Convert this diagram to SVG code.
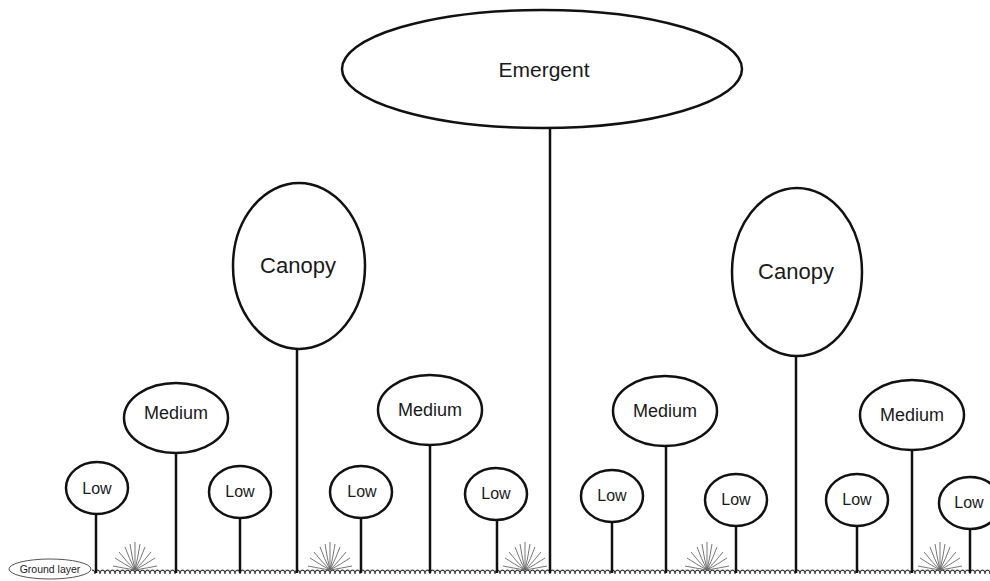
<svg xmlns="http://www.w3.org/2000/svg" width="990" height="581" viewBox="0 0 990 581">
<style>
.n{fill:#fff;stroke:#111;stroke-width:2.5}
.t{font-family:"Liberation Sans",Arial,sans-serif;fill:#1a1a1a;text-anchor:middle;dominant-baseline:central}
.stem{stroke:#111;stroke-width:2.5;fill:none}
.tuft path{stroke:#666;stroke-width:0.9;fill:none}
</style>
<defs>
<pattern id="wave" patternUnits="userSpaceOnUse" x="0" y="566" width="5" height="10">
<path d="M0,8 C0.2,2.8 4.8,2.8 5,8" fill="none" stroke="#333" stroke-width="1.1"/>
</pattern>
<g id="tuft" class="tuft">
<path d="M0,0 Q-12,-2 -22,-4"/>
<path d="M0,0 Q-11,-6 -20,-12"/>
<path d="M0,0 Q-9,-9 -16,-18"/>
<path d="M0,0 Q-6,-12 -10,-23"/>
<path d="M0,0 Q-3,-13 -5,-26"/>
<path d="M0,0 L0,-28"/>
<path d="M0,0 Q3,-13 5,-26"/>
<path d="M0,0 Q6,-12 10,-23"/>
<path d="M0,0 Q9,-9 16,-18"/>
<path d="M0,0 Q11,-6 20,-12"/>
<path d="M0,0 Q12,-2 22,-4"/>
</g>
</defs>
<rect width="990" height="581" fill="#fff"/>
<g id="ground">
<rect x="92" y="566" width="898" height="10" fill="url(#wave)"/>
<use href="#tuft" x="135" y="570"/>
<use href="#tuft" x="330" y="570"/>
<use href="#tuft" x="525" y="570"/>
<use href="#tuft" x="707" y="570"/>
<use href="#tuft" x="940" y="570"/>
</g>
<g id="connectors">
<line class="stem" x1="550" y1="128" x2="550" y2="573"/>
<line class="stem" x1="297" y1="349" x2="297" y2="573"/>
<line class="stem" x1="796" y1="356" x2="796" y2="573"/>
<line class="stem" x1="176" y1="452" x2="176" y2="573"/>
<line class="stem" x1="430" y1="445" x2="430" y2="573"/>
<line class="stem" x1="666" y1="446" x2="666" y2="573"/>
<line class="stem" x1="912" y1="450" x2="912" y2="573"/>
<line class="stem" x1="96" y1="514" x2="96" y2="573"/>
<line class="stem" x1="240" y1="518" x2="240" y2="573"/>
<line class="stem" x1="361" y1="518" x2="361" y2="573"/>
<line class="stem" x1="497" y1="520" x2="497" y2="573"/>
<line class="stem" x1="612" y1="522" x2="612" y2="573"/>
<line class="stem" x1="736" y1="526" x2="736" y2="573"/>
<line class="stem" x1="857" y1="526" x2="857" y2="573"/>
<line class="stem" x1="970" y1="529" x2="970" y2="573"/>
</g>
<g id="emergent"><ellipse class="n" cx="542" cy="69" rx="200" ry="59"/><text class="t" x="544" y="69" font-size="21">Emergent</text></g>
<g id="canopy1"><ellipse class="n" cx="299" cy="266" rx="66" ry="83"/><text class="t" x="298" y="265" font-size="22">Canopy</text></g>
<g id="canopy2"><ellipse class="n" cx="797" cy="272" rx="65" ry="84"/><text class="t" x="796" y="271" font-size="22">Canopy</text></g>
<g id="medium1"><ellipse class="n" cx="176" cy="418" rx="52" ry="35"/><text class="t" x="176" y="413" font-size="18">Medium</text></g>
<g id="medium2"><ellipse class="n" cx="430" cy="410" rx="52" ry="35"/><text class="t" x="430" y="410" font-size="18">Medium</text></g>
<g id="medium3"><ellipse class="n" cx="665" cy="411" rx="52" ry="35"/><text class="t" x="665" y="411" font-size="18">Medium</text></g>
<g id="medium4"><ellipse class="n" cx="912" cy="415" rx="52" ry="35"/><text class="t" x="912" y="415" font-size="18">Medium</text></g>
<g id="low1"><ellipse class="n" cx="97" cy="488" rx="31" ry="26"/><text class="t" x="97" y="488" font-size="16">Low</text></g>
<g id="low2"><ellipse class="n" cx="240" cy="492" rx="31" ry="26"/><text class="t" x="240" y="491" font-size="16">Low</text></g>
<g id="low3"><ellipse class="n" cx="361" cy="492" rx="31" ry="26"/><text class="t" x="362" y="491" font-size="16">Low</text></g>
<g id="low4"><ellipse class="n" cx="496" cy="494" rx="31" ry="26"/><text class="t" x="496" y="493" font-size="16">Low</text></g>
<g id="low5"><ellipse class="n" cx="612" cy="496" rx="31" ry="26"/><text class="t" x="612" y="495" font-size="16">Low</text></g>
<g id="low6"><ellipse class="n" cx="736" cy="500" rx="31" ry="26"/><text class="t" x="736" y="499" font-size="16">Low</text></g>
<g id="low7"><ellipse class="n" cx="857" cy="500" rx="31" ry="26"/><text class="t" x="857" y="499" font-size="16">Low</text></g>
<g id="low8"><ellipse class="n" cx="970" cy="503" rx="31" ry="26"/><text class="t" x="969" y="502" font-size="16">Low</text></g>
<g id="groundlayer"><ellipse cx="50" cy="569" rx="41" ry="10" fill="#fff" stroke="#555" stroke-width="1"/><text class="t" x="50" y="569" font-size="10.5">Ground layer</text></g>
</svg>
